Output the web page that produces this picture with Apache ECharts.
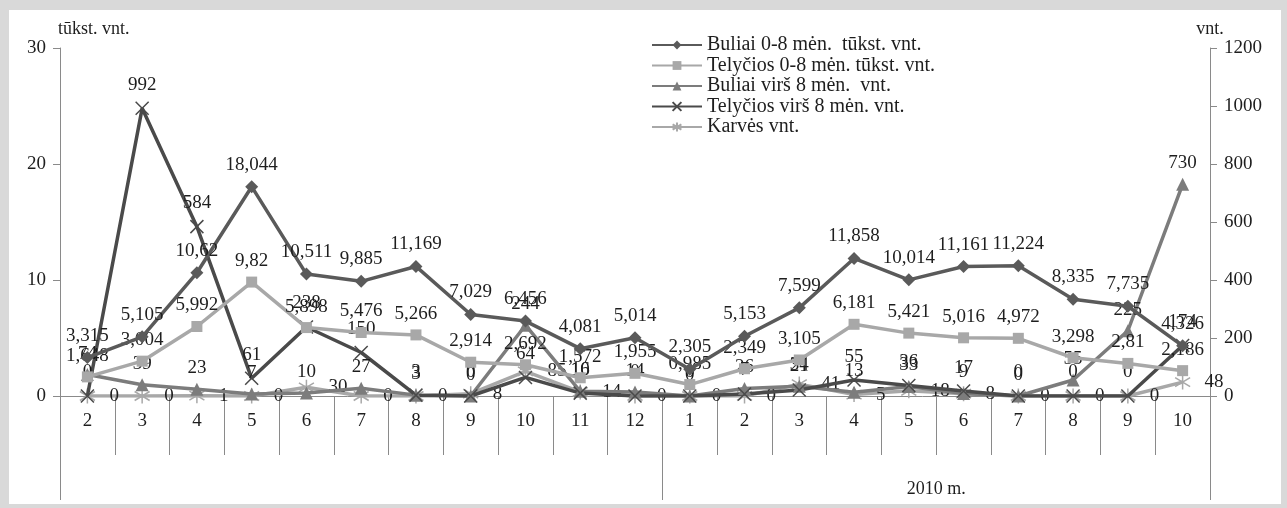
<!DOCTYPE html>
<html>
<head>
<meta charset="utf-8">
<script src="https://cdn.jsdelivr.net/npm/echarts@6/dist/echarts.min.js"></script>
<style>
  body { margin: 0; background: #d9d9d9; }
  #chart {
    position: absolute;
    left: 9px;
    top: 10px;
    width: 1272px;
    height: 494px;
    background: #ffffff;
  }
</style>
</head>
<body>
<div id="chart"></div>
<script>
// months: 2009-02 .. 2010-10
var months = ['2', '3', '4', '5', '6', '7', '8', '9', '10', '11', '12',
              '1', '2', '3', '4', '5', '6', '7', '8', '9', '10'];
var yearLabel = '2010 m.';

// tūkst. vnt. (left axis)
var buliai08 = [3.315, 5.105, 10.62, 18.044, 10.511, 9.885, 11.169, 7.029, 6.456, 4.081, 5.014,
                2.305, 5.153, 7.599, 11.858, 10.014, 11.161, 11.224, 8.335, 7.735, 4.326];
var telycios08 = [1.648, 3.004, 5.992, 9.82, 5.898, 5.476, 5.266, 2.914, 2.692, 1.572, 1.955,
                  0.985, 2.349, 3.105, 6.181, 5.421, 5.016, 4.972, 3.298, 2.81, 2.186];
// vnt. (right axis)
var buliaiVirs8 = [74, 39, 23, 7, 10, 27, 3, 0, 244, 16, 14,
                   0, 26, 34, 13, 33, 9, 0, 55, 225, 730];
var telyciosVirs8 = [0, 992, 584, 61, 238, 150, 3, 0, 64, 10, 0,
                     0, 7, 21, 55, 36, 17, 0, 0, 0, 174];
var karves = [0, 0, 1, 0, 30, 0, 0, 8, 85, 14, 0,
              0, 0, 41, 5, 18, 8, 0, 0, 0, 48];

var font = '"Liberation Serif", "Times New Roman", serif';
var axisGray = '#8a8a8a';
var txt = '#1e1e1e';

function lt(p) { return String(p.value).replace('.', ','); }

var xSym = 'path://M0,0 L10,10 M10,0 L0,10';
var starSym = 'path://M5,0 L5,10 M0,2 L10,8 M0,8 L10,2';

function lbl(pos, dist) {
  return { show: true, position: pos, distance: dist, formatter: lt,
           color: txt, fontFamily: font, fontSize: 19 };
}

var chart = echarts.init(document.getElementById('chart'));
chart.setOption({
  animation: false,
  textStyle: { fontFamily: font },
  grid: { left: 51, right: 71, top: 38, bottom: 108 },
  legend: {
    orient: 'vertical',
    left: 637,
    top: 20,
    itemWidth: 50,
    itemHeight: 11,
    itemGap: 0.5,
    textStyle: { fontFamily: font, fontSize: 20, color: txt, lineHeight: 18 }
  },
  xAxis: [{
    type: 'category',
    data: months,
    boundaryGap: true,
    axisLine: { show: true, lineStyle: { color: axisGray } },
    axisTick: { show: true, interval: 0, length: 59, lineStyle: { color: axisGray } },
    axisLabel: { interval: 0, color: txt, fontFamily: font, fontSize: 19, margin: 16 }
  }, {
    type: 'value',
    position: 'bottom',
    min: 0,
    max: months.length,
    axisLine: { show: false },
    splitLine: { show: false },
    axisTick: { show: true, customValues: [0, 11, months.length], length: 104,
                lineStyle: { color: axisGray } },
    axisLabel: { customValues: [16], formatter: function () { return yearLabel; },
                 color: txt, fontFamily: font, fontSize: 18, margin: 84 }
  }],
  yAxis: [{
    type: 'value',
    min: 0, max: 30, interval: 10,
    name: 'tūkst. vnt.',
    nameLocation: 'end',
    nameGap: 10,
    nameTextStyle: { color: txt, fontFamily: font, fontSize: 18, align: 'left', padding: [0, 0, 0, -2] },
    axisLine: { show: true, lineStyle: { color: axisGray } },
    axisTick: { show: true, length: 7, lineStyle: { color: axisGray } },
    splitLine: { show: false },
    axisLabel: { color: txt, fontFamily: font, fontSize: 19, margin: 14 }
  }, {
    type: 'value',
    min: 0, max: 1200, interval: 200,
    name: 'vnt.',
    nameLocation: 'end',
    nameGap: 10,
    nameTextStyle: { color: txt, fontFamily: font, fontSize: 18 },
    axisLine: { show: true, lineStyle: { color: axisGray } },
    axisTick: { show: true, length: 7, lineStyle: { color: axisGray } },
    splitLine: { show: false },
    axisLabel: { color: txt, fontFamily: font, fontSize: 19, margin: 14,
                 formatter: function (v) { return String(v); } }
  }],
  series: [{
    name: 'Buliai 0-8 mėn.  tūkst. vnt.',
    type: 'line',
    yAxisIndex: 0,
    data: buliai08,
    symbol: 'diamond',
    symbolSize: 13,
    lineStyle: { color: '#5a5a5a', width: 3.5 },
    itemStyle: { color: '#5a5a5a' },
    label: lbl('top', 6),
    z: 5
  }, {
    name: 'Telyčios 0-8 mėn. tūkst. vnt.',
    type: 'line',
    yAxisIndex: 0,
    data: telycios08,
    symbol: 'rect',
    symbolSize: 11,
    lineStyle: { color: '#a8a8a8', width: 3.5 },
    itemStyle: { color: '#a8a8a8' },
    label: lbl('top', 6),
    z: 4
  }, {
    name: 'Buliai virš 8 mėn.  vnt.',
    type: 'line',
    yAxisIndex: 1,
    data: buliaiVirs8,
    symbol: 'triangle',
    symbolSize: 13,
    lineStyle: { color: '#7c7c7c', width: 3.5 },
    itemStyle: { color: '#7c7c7c' },
    label: lbl('top', 5),
    z: 3
  }, {
    name: 'Telyčios virš 8 mėn. vnt.',
    type: 'line',
    yAxisIndex: 1,
    data: telyciosVirs8,
    symbol: xSym,
    symbolSize: 13,
    lineStyle: { color: '#4a4a4a', width: 3.5 },
    itemStyle: { color: 'none', borderColor: '#4a4a4a', borderWidth: 1.5 },
    label: lbl('top', 5),
    z: 3
  }, {
    name: 'Karvės vnt.',
    type: 'line',
    yAxisIndex: 1,
    data: karves,
    symbol: starSym,
    symbolSize: 15,
    lineStyle: { color: '#a8a8a8', width: 3.5 },
    itemStyle: { color: 'none', borderColor: '#a8a8a8', borderWidth: 1.5 },
    label: lbl('right', 12),
    z: 2
  }]
});
</script>
</body>
</html>
